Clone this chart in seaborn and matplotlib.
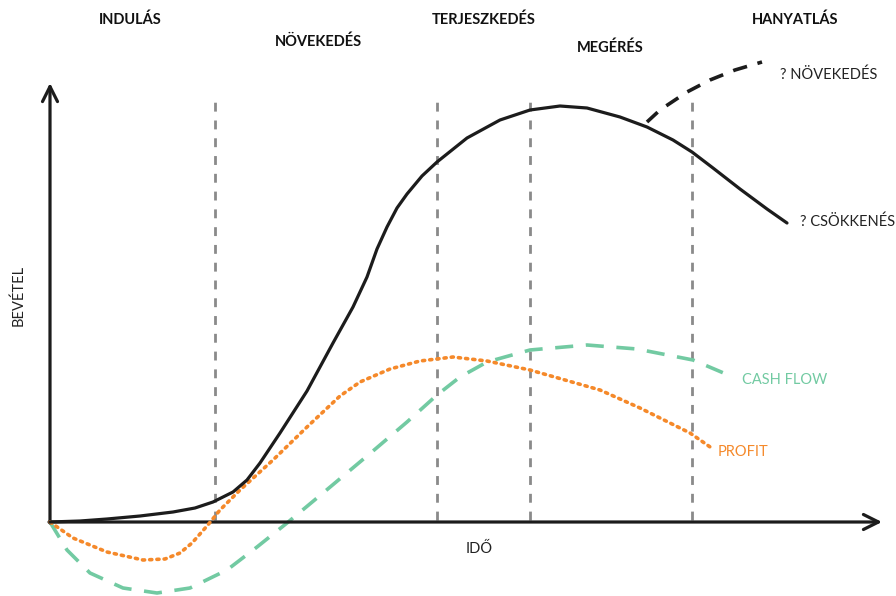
import matplotlib.pyplot as plt
import seaborn as sns
import pandas as pd

sns.set_theme(style="white")
plt.rcParams['font.family'] = ['Lato', 'DejaVu Sans']

# time vs value (origin = axis corner)
rev_t = [0, 30, 57, 90, 123, 145, 163, 183, 197, 210, 230, 257, 283, 303, 317, 327, 337, 347, 357,
         372, 387, 417, 450, 480, 510, 537, 570, 597, 623, 642, 663, 690, 717, 737]
rev_v = [0, 1, 3, 6, 10, 14, 20, 30, 42, 59, 89, 131, 179, 215, 245, 273, 295, 314, 328,
         346, 360, 384, 402, 412, 416, 414, 405, 395, 382, 370, 354, 333, 313, 299]

grow_t = [597, 610, 637, 660, 685, 712]
grow_v = [400, 412, 430, 442, 452, 460]

profit_t = [0, 23, 57, 93, 115, 130, 142, 157, 170, 190, 223, 257, 290, 310, 340, 370, 403,
            437, 480, 550, 590, 640, 663]
profit_v = [0, -16, -30, -38, -37, -31, -21, -4, 12, 32, 62, 95, 126, 140, 153, 161, 165,
            161, 152, 132, 114, 89, 73]

cash_t = [0, 17, 40, 73, 107, 140, 177, 207, 237, 273, 323, 357, 387, 410, 437, 480,
          537, 587, 643, 683]
cash_v = [0, -28, -51, -66, -71, -66, -48, -25, -1, 29, 71, 100, 127, 145, 160, 172,
          177, 173, 162, 145]

phase_t = [165, 387, 480, 642]
phases = ["INDULÁS", "NÖVEKEDÉS", "TERJESZKEDÉS", "MEGÉRÉS", "HANYATLÁS"]
phase_pos = [(80, 502), (268, 480), (434, 502), (560, 474), (745, 502)]

OX, OY = 50, 522

fig = plt.figure(figsize=(8.96, 5.96), dpi=100)
ax = fig.add_axes([0, 0, 1, 1])
ax.set_xlim(-OX, 896 - OX)
ax.set_ylim(OY - 596, OY)
ax.axis('off')

df_rev = pd.DataFrame({'t': rev_t, 'v': rev_v})
df_grow = pd.DataFrame({'t': grow_t, 'v': grow_v})
df_profit = pd.DataFrame({'t': profit_t, 'v': profit_v})
df_cash = pd.DataFrame({'t': cash_t, 'v': cash_v})

# phase separators
for t in phase_t:
    ax.plot([t, t], [2, 422], color='#8a8a8a', lw=2, ls=(0, (3.2, 3.2)), zorder=1)

sns.lineplot(data=df_cash, x='t', y='v', ax=ax, sort=False, estimator=None,
             color='#72caa2', lw=2.6, zorder=3)
ax.lines[-1].set_linestyle((0, (5, 3.5)))
sns.lineplot(data=df_profit, x='t', y='v', ax=ax, sort=False, estimator=None,
             color='#f5892a', lw=2.6, zorder=4)
ax.lines[-1].set_linestyle((0, (0.6, 1.4)))
ax.lines[-1].set_dash_capstyle('round')
sns.lineplot(data=df_rev, x='t', y='v', ax=ax, sort=False, estimator=None,
             color='#1c1c1c', lw=2.3, zorder=5)
ax.lines[-1].set_solid_joinstyle('round')
sns.lineplot(data=df_grow, x='t', y='v', ax=ax, sort=False, estimator=None,
             color='#1c1c1c', lw=2.6, zorder=5)
ax.lines[-1].set_linestyle((0, (4, 3)))
ax.set_xlabel('')
ax.set_ylabel('')

# axes with arrows
ax.annotate('', xy=(832, 0), xytext=(-1, 0),
            arrowprops=dict(arrowstyle='->,head_length=0.9,head_width=0.45', lw=2.3,
                            color='#1c1c1c', shrinkA=0, shrinkB=0))
ax.annotate('', xy=(0, 439), xytext=(0, -1),
            arrowprops=dict(arrowstyle='->,head_length=0.9,head_width=0.45', lw=2.3,
                            color='#1c1c1c', shrinkA=0, shrinkB=0))

for name, (x, y) in zip(phases, phase_pos):
    ax.text(x, y, name, ha='center', va='center', fontsize=10.5, fontweight='bold', color='#111111')

ax.text(730, 447, '? NÖVEKEDÉS', ha='left', va='center', fontsize=10.5, color='#222222')
ax.text(750, 300, '? CSÖKKENÉS', ha='left', va='center', fontsize=10.5, color='#222222')
ax.text(692, 142, 'CASH FLOW', ha='left', va='center', fontsize=10.5, color='#72caa2')
ax.text(668, 70, 'PROFIT', ha='left', va='center', fontsize=10.5, color='#f5892a')
ax.text(429, -27, 'IDŐ', ha='center', va='center', fontsize=10.5, color='#222222')
ax.text(-32, 227, 'BEVÉTEL', ha='center', va='center', fontsize=10.5, rotation=90, color='#222222')

fig.savefig('out.png', dpi=100)
